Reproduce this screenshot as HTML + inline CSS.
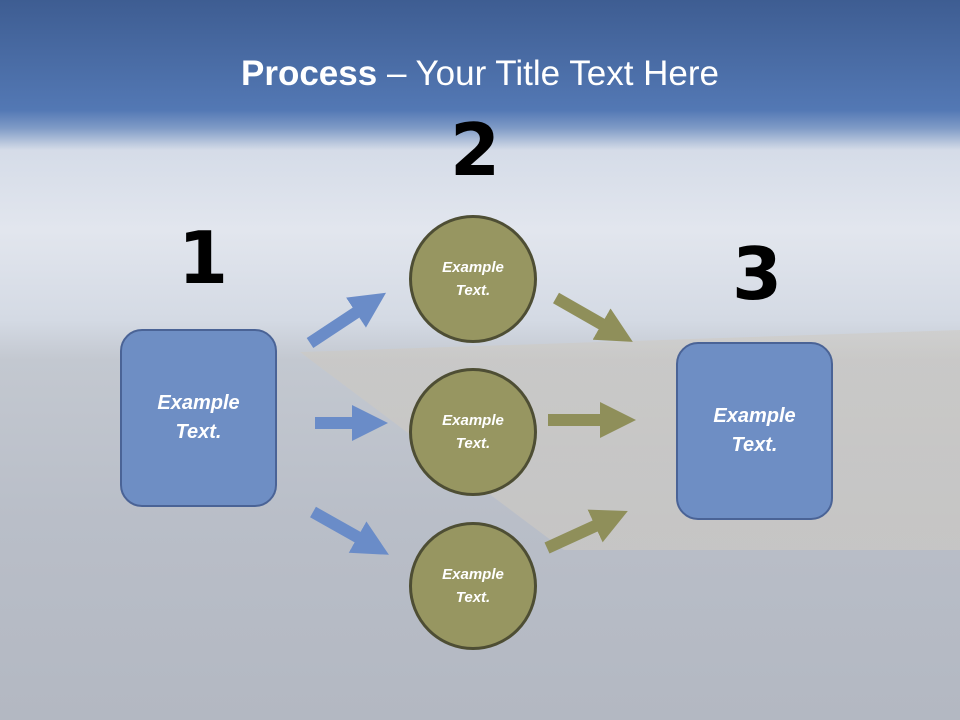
<!DOCTYPE html>
<html><head><meta charset="utf-8"><style>
html,body{margin:0;padding:0}
body{width:960px;height:720px;position:relative;overflow:hidden;font-family:"Liberation Sans",sans-serif;
background:linear-gradient(180deg,#3e5d92 0px,#5378b4 110px,#7f9bc6 128px,#d5dce8 150px,#e2e6ee 230px,#d4dae4 320px,#c3c8d0 360px,#b9bec8 520px,#b3b8c2 720px);}
.beach{position:absolute;left:300px;top:330px;width:660px;height:220px;background:linear-gradient(180deg,#cfc8bc,#d6cfc2);opacity:.45;clip-path:polygon(0 10%,100% 0,100% 100%,40% 100%)}
.title{position:absolute;top:54px;left:0;width:960px;text-align:center;color:#fff;font-size:35px;font-family:"Liberation Sans",sans-serif}
.num{position:absolute;font-size:72px;font-weight:bold;color:#000;font-family:"DejaVu Sans","Liberation Sans",sans-serif;line-height:1}
.box{position:absolute;width:153px;height:174px;border-radius:22px;background:#6e8ec4;border:2px solid #4a6396;color:#fff;font-weight:bold;font-style:italic;font-size:20px;display:flex;align-items:center;justify-content:center;text-align:center;line-height:29px}
.c{position:absolute;width:122px;height:122px;border-radius:50%;background:#979661;border:3px solid #4e4e34;color:#fff;font-weight:bold;font-style:italic;font-size:15px;display:flex;align-items:center;justify-content:center;text-align:center;line-height:23px}
</style></head><body>
<div class="beach"></div>
<div class="title"><b>Process</b> – Your Title Text Here</div>
<div class="num" style="left:178px;top:222px">1</div>
<div class="num" style="left:450px;top:114px">2</div>
<div class="num" style="left:732px;top:238px">3</div>
<svg width="960" height="720" style="position:absolute;left:0;top:0">
<defs>
<marker id="hb" markerWidth="3" markerHeight="3" refX="1" refY="1.5" orient="auto" markerUnits="strokeWidth"><path d="M0,0 L3,1.5 L0,3z" fill="#6a8cc8"/></marker>
<marker id="ho" markerWidth="3" markerHeight="3" refX="1" refY="1.5" orient="auto" markerUnits="strokeWidth"><path d="M0,0 L3,1.5 L0,3z" fill="#8f8f5a"/></marker>
</defs>
<g stroke="#6a8cc8" stroke-width="12" marker-end="url(#hb)">
<line x1="310" y1="343" x2="366" y2="306"/>
<line x1="315" y1="423" x2="364" y2="423"/>
<line x1="313" y1="512" x2="368" y2="543"/>
</g>
<g stroke="#8f8f5a" stroke-width="12" marker-end="url(#ho)">
<line x1="556" y1="298" x2="612" y2="330"/>
<line x1="548" y1="420" x2="612" y2="420"/>
<line x1="547" y1="548" x2="606" y2="521"/>
</g>
</svg>
<div class="box" style="left:120px;top:329px">Example<br>Text.</div>
<div class="box" style="left:676px;top:342px">Example<br>Text.</div>
<div class="c" style="left:409px;top:215px">Example<br>Text.</div>
<div class="c" style="left:409px;top:368px">Example<br>Text.</div>
<div class="c" style="left:409px;top:522px">Example<br>Text.</div>
</body></html>
